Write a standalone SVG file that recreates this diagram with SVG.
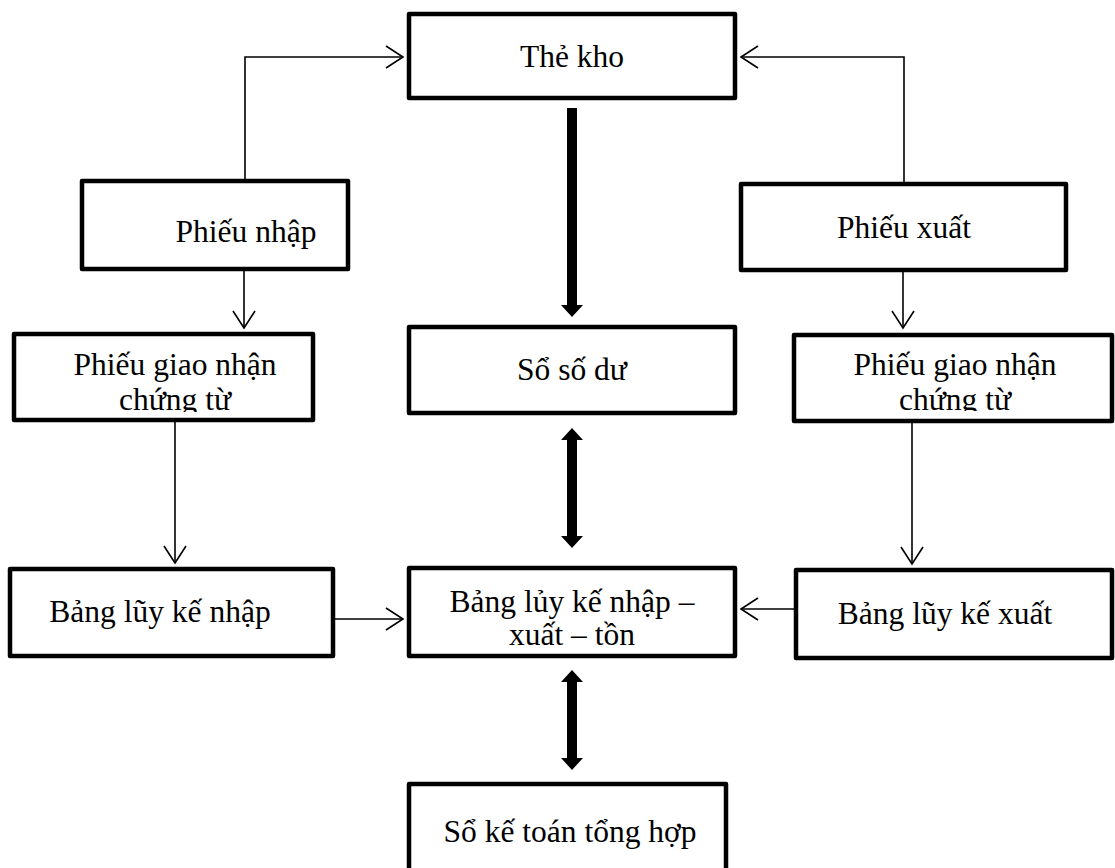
<svg xmlns="http://www.w3.org/2000/svg" width="1115" height="868" viewBox="0 0 1115 868">
  <style>
    .box { fill: #fff; stroke: #000; stroke-width: 4.5; stroke-linejoin: round; }
    .lbl { font-family: "Liberation Serif", "Times New Roman", serif; font-size: 31.5px; fill: #000; text-anchor: middle; }
    .thin { fill: none; stroke: #000; stroke-width: 1.6; }
    .bold { fill: #000; stroke: none; }
  </style>
  <defs>
    <marker id="open" markerUnits="userSpaceOnUse" markerWidth="22" markerHeight="28" viewBox="-19 -14 22 28" refX="0" refY="0" orient="auto">
      <path d="M-17,-11 L0,0 L-17,11" fill="none" stroke="#000" stroke-width="1.6"/>
    </marker>
    <clipPath id="clipL"><rect x="14" y="334" width="299" height="78"/></clipPath>
    <clipPath id="clipR"><rect x="794" y="335" width="318" height="76"/></clipPath>
  </defs>
  <rect width="1115" height="868" fill="#fff"/>

  <!-- connectors -->
  <g id="connectors">
    <polyline class="thin" points="245,179 245,57 403,57" marker-end="url(#open)"/>
    <polyline class="thin" points="904,182 904,57 741,57" marker-end="url(#open)"/>
    <line class="thin" x1="244" y1="271" x2="244" y2="328" marker-end="url(#open)"/>
    <line class="thin" x1="903" y1="272" x2="903" y2="328" marker-end="url(#open)"/>
    <line class="thin" x1="175" y1="422" x2="175" y2="563" marker-end="url(#open)"/>
    <line class="thin" x1="912" y1="423" x2="912" y2="564" marker-end="url(#open)"/>
    <line class="thin" x1="335" y1="619" x2="403" y2="619" marker-end="url(#open)"/>
    <line class="thin" x1="794" y1="609" x2="741" y2="609" marker-end="url(#open)"/>
    <!-- heavy arrows on the central column -->
    <polygon class="bold" points="567,108 577,108 577,305 583,305 572,317 561,305 567,305"/>
    <polygon class="bold" points="572,428 583,440 577,440 577,536 583,536 572,548 561,536 567,536 567,440 561,440"/>
    <polygon class="bold" points="572,670 583,682 577,682 577,758 583,758 572,770 561,758 567,758 567,682 561,682"/>
  </g>

  <g id="the-kho">
    <rect class="box" x="409" y="14" width="326" height="84"/>
    <text class="lbl" x="572" y="67">Thẻ kho</text>
  </g>

  <g id="phieu-nhap">
    <rect class="box" x="82" y="181" width="266" height="88"/>
    <text class="lbl" x="246" y="242">Phiếu nhập</text>
  </g>

  <g id="phieu-xuat">
    <rect class="box" x="741" y="184" width="325" height="86"/>
    <text class="lbl" x="904" y="238">Phiếu xuất</text>
  </g>

  <g id="phieu-giao-nhan-trai">
    <rect class="box" x="14" y="334" width="299" height="86"/>
    <g clip-path="url(#clipL)">
      <text class="lbl" x="175" y="375">Phiếu giao nhận</text>
      <text class="lbl" x="175" y="410">chứng từ</text>
    </g>
  </g>

  <g id="so-so-du">
    <rect class="box" x="409" y="327" width="326" height="86"/>
    <text class="lbl" x="572" y="380">Sổ số dư</text>
  </g>

  <g id="phieu-giao-nhan-phai">
    <rect class="box" x="794" y="335" width="318" height="86"/>
    <g clip-path="url(#clipR)">
      <text class="lbl" x="955" y="375">Phiếu giao nhận</text>
      <text class="lbl" x="955" y="410">chứng từ</text>
    </g>
  </g>

  <g id="bang-luy-ke-nhap">
    <rect class="box" x="10" y="569" width="323" height="87"/>
    <text class="lbl" x="160" y="622">Bảng lũy kế nhập</text>
  </g>

  <g id="bang-luy-ke-nxt">
    <rect class="box" x="409" y="568" width="326" height="88"/>
    <text class="lbl" x="572" y="612">Bảng lủy kế nhập –</text>
    <text class="lbl" x="572" y="645">xuất – tồn</text>
  </g>

  <g id="bang-luy-ke-xuat">
    <rect class="box" x="796" y="570" width="316" height="88"/>
    <text class="lbl" x="945" y="624">Bảng lũy kế xuất</text>
  </g>

  <g id="so-ke-toan-tong-hop">
    <rect class="box" x="409" y="784" width="317" height="120"/>
    <text class="lbl" x="570" y="842">Sổ kế toán tổng hợp</text>
  </g>
</svg>
